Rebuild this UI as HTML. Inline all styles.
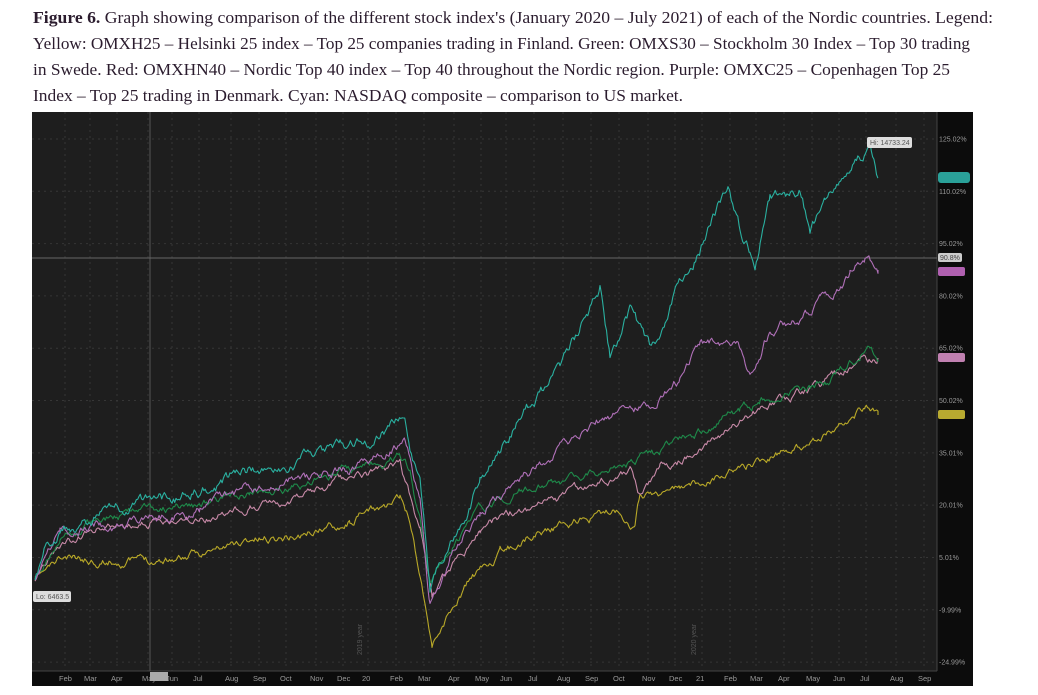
<!DOCTYPE html>
<html><head><meta charset="utf-8"><style>
html,body{margin:0;padding:0;background:#fff;width:1038px;height:695px;overflow:hidden}
svg{display:block}
</style></head><body>
<svg id="s" width="1038" height="695" xmlns="http://www.w3.org/2000/svg">
<g font-family="Liberation Serif, serif" font-size="17" fill="#2b1c2e">
<text x="33" y="23" textLength="960" lengthAdjust="spacingAndGlyphs"><tspan font-weight="bold">Figure 6.</tspan>  Graph showing comparison of the different stock index's (January 2020 – July 2021) of each of the Nordic countries. Legend:</text>
<text x="33" y="49" textLength="937" lengthAdjust="spacingAndGlyphs">Yellow: OMXH25 – Helsinki 25 index – Top 25 companies trading in Finland. Green: OMXS30 – Stockholm 30 Index – Top 30 trading</text>
<text x="33" y="75" textLength="917" lengthAdjust="spacingAndGlyphs">in Swede. Red: OMXHN40 – Nordic Top 40 index – Top 40 throughout the Nordic region. Purple: OMXC25 – Copenhagen Top 25</text>
<text x="33" y="101" textLength="650" lengthAdjust="spacingAndGlyphs">Index – Top 25 trading in Denmark. Cyan: NASDAQ composite – comparison to US market.</text>
</g>
<rect x="32" y="112" width="941" height="574" fill="#0c0c0c"/>
<rect x="32" y="112" width="905" height="559" fill="#1e1e1e"/>
<g id="grid" stroke="#363636" stroke-dasharray="2,4" stroke-width="1"></g>
<line x1="937" y1="112" x2="937" y2="671" stroke="#444"/>
<line x1="32" y1="671" x2="937" y2="671" stroke="#444"/>
<line x1="150" y1="112" x2="150" y2="671" stroke="#555"/>
<line x1="32" y1="258" x2="937" y2="258" stroke="#666"/>
<g id="ylab" font-family="Liberation Sans, sans-serif" font-size="7" fill="#999"></g>
<g id="xlab" font-family="Liberation Sans, sans-serif" font-size="7.5" fill="#999"></g>
<text x="0" y="0" transform="translate(362,655) rotate(-90)" font-family="Liberation Sans, sans-serif" font-size="7" fill="#555">2019 year</text>
<text x="0" y="0" transform="translate(696,655) rotate(-90)" font-family="Liberation Sans, sans-serif" font-size="7" fill="#555">2020 year</text>
<g id="lines" fill="none" stroke-width="1.1" stroke-linejoin="round"></g>
<rect x="867" y="137" width="45" height="11" rx="2" fill="#ddd"/>
<text x="870" y="145" font-family="Liberation Sans, sans-serif" font-size="7" fill="#555">Hi: 14733.24</text>
<rect x="33" y="591" width="38" height="11" rx="2" fill="#ddd"/>
<text x="36" y="599" font-family="Liberation Sans, sans-serif" font-size="7" fill="#555">Lo: 6463.5</text>
<rect x="938" y="172" width="32" height="11" rx="3" fill="#2aa199"/>
<rect x="938" y="253" width="24" height="9" rx="2" fill="#ccc"/>
<text x="940" y="260" font-family="Liberation Sans, sans-serif" font-size="7" fill="#444">90.8%</text>
<rect x="938" y="267" width="27" height="9" rx="2" fill="#b060b0"/>
<rect x="938" y="353" width="27" height="9" rx="2" fill="#c080b0"/>
<rect x="938" y="410" width="27" height="9" rx="2" fill="#b8aa30"/>
<rect x="150" y="672" width="18" height="9" fill="#aaa"/>
</svg>
<script>
var NS="http://www.w3.org/2000/svg";
function el(p,t,a,txt){var e=document.createElementNS(NS,t);for(var k in a)e.setAttribute(k,a[k]);if(txt)e.textContent=txt;document.getElementById(p).appendChild(e);return e;}
var ys=[125.02,110.02,95.02,80.02,65.02,50.02,35.01,20.01,5.01,-9.99,-24.99];
ys.forEach(function(v){var y=139+(125.02-v)*3.487;el("grid","line",{x1:32,x2:937,y1:y,y2:y});el("ylab","text",{x:939,y:y+2.5},v.toFixed(2)+"%");});
var mx=[["Feb",65],["Mar",90],["Apr",117],["May",148],["Jun",172],["Jul",199],["Aug",231],["Sep",259],["Oct",286],["Nov",316],["Dec",343],["20",368],["Feb",396],["Mar",424],["Apr",454],["May",481],["Jun",506],["Jul",534],["Aug",563],["Sep",591],["Oct",619],["Nov",648],["Dec",675],["21",702],["Feb",730],["Mar",756],["Apr",784],["May",812],["Jun",839],["Jul",866],["Aug",896],["Sep",924]];
mx.forEach(function(m){el("grid","line",{x1:m[1],x2:m[1],y1:112,y2:671});el("xlab","text",{x:m[1]-6,y:681},m[0]);});
var seed=11;function rnd(){seed=(seed*16807)%2147483647;return seed/2147483647-0.5;}
function series(pts,col,amp){var out=[];var n=0;
for(var i=0;i<pts.length-1;i++){var a=pts[i],b=pts[i+1];for(var x=a[0];x<b[0];x+=1.3){var t=(x-a[0])/(b[0]-a[0]);n=n*0.85+rnd()*amp;out.push(x.toFixed(1)+","+(a[1]+(b[1]-a[1])*t+n).toFixed(1));}}
var l=pts[pts.length-1];out.push(l[0]+","+l[1]);el("lines","polyline",{points:out.join(" "),stroke:col});}
series([[35,580],[60,560],[100,560],[150,560],[200,555],[250,540],[300,535],[350,520],[400,500],[410,520],[425,600],[432,645],[445,620],[470,580],[500,555],[540,530],[580,520],[620,510],[635,525],[640,495],[680,490],[720,475],[760,460],[800,445],[840,425],[865,405],[878,415]],"#b8a828",6);
series([[35,580],[60,545],[100,530],[150,525],[200,520],[250,505],[300,495],[350,480],[400,465],[420,530],[432,600],[450,570],[480,530],[520,510],[560,500],[600,480],[630,470],[640,495],[660,470],[700,450],[740,420],[780,400],[820,385],[860,360],[878,358]],"#c88aa8",6);
series([[35,580],[60,540],[100,520],[150,510],[200,505],[250,495],[300,485],[350,470],[400,455],[410,470],[420,520],[430,580],[450,550],[480,510],[520,490],[560,480],[600,470],[640,460],[660,455],[680,440],[700,430],[720,420],[740,410],[760,400],[800,390],[830,380],[860,355],[870,345],[878,360]],"#1e8a4a",6);
series([[35,580],[60,535],[100,525],[150,520],[200,510],[250,490],[300,480],[350,470],[390,450],[405,440],[420,500],[430,600],[450,560],[480,510],[520,480],[560,450],[600,420],[640,410],[680,380],[700,340],[720,340],[740,350],[750,380],[770,330],[800,320],[820,300],[850,275],[865,258],[878,270]],"#b070b8",7);
series([[35,580],[45,550],[60,530],[100,515],[150,505],[200,490],[250,470],[300,460],[340,450],[380,435],[405,415],[410,440],[420,480],[430,590],[440,560],[460,530],[480,480],[520,420],[560,370],[580,330],[590,310],[600,290],[610,360],[630,310],[650,350],[665,330],[680,280],[700,250],[715,210],[730,190],[740,230],[750,250],[755,260],[770,200],[790,195],[800,190],[810,230],[825,200],[850,170],[870,150],[878,178]],"#2ab0a0",8);
</script>
</body></html>
